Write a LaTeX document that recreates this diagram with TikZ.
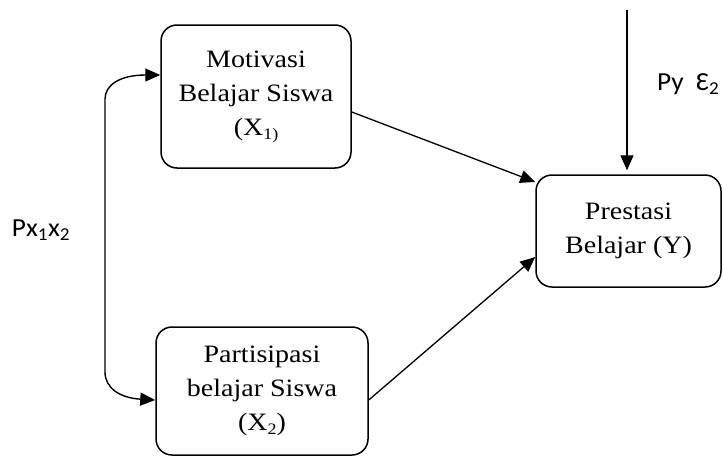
\documentclass[tikz,border=0pt]{standalone}
\usepackage{fontspec}
\setmainfont{Liberation Serif}[FakeStretch=1.12]
\newfontfamily\lblfont{Carlito}[FakeStretch=1.05]
\usetikzlibrary{arrows.meta}
\tikzset{
  varbox/.style={draw, line width=1.5pt, rounded corners=16pt, align=center,
    font=\fontsize{25}{34}\selectfont, inner sep=0pt},
  conn/.style={line width=1.3pt, -{Triangle[length=15pt,width=13pt]}},
  biconn/.style={line width=1.4pt, {Triangle[length=15pt,width=13pt]}-{Triangle[length=15pt,width=13pt]}},
  lbl/.style={font=\lblfont\fontsize{26}{28}\selectfont, inner sep=0pt}
}
\newcommand{\subx}[1]{\raisebox{-0.35ex}{\fontsize{16}{16}\selectfont #1}}
\begin{document}
\begin{tikzpicture}[x=1pt,y=-1pt]
\useasboundingbox (0,0) rectangle (723,458);
\node[varbox, minimum width=190pt, minimum height=143pt] (b1) at (256,96.5)
  {Motivasi\\Belajar Siswa\\(X\subx{1)}};
\node[varbox, minimum width=212pt, minimum height=128pt] (b2) at (262,391)
  {Partisipasi\\belajar Siswa\\(X\subx{2})};
\node[varbox, minimum width=185pt, minimum height=112pt] (by) at (628.5,231)
  {Prestasi\\Belajar (Y)};
\coordinate (src) at (627,10);
\node[lbl, anchor=west] (ley) at (657,84) {Py\ \ Ɛ\textsubscript{2}};
\node[lbl] (lpx) at (41,230) {Px\textsubscript{1}x\textsubscript{2}};
\draw[conn] (src) -- ([yshift=4pt]src |- by.north);
\draw[conn] ([yshift=-15.5pt]b1.east) -- ([yshift=49pt]by.west);
\draw[conn] ([yshift=-9pt]b2.east) -- ([yshift=-26pt]by.west);
\draw[biconn] ([yshift=21.5pt]b1.west) .. controls (120,75) and (105,85) .. (105,99)
  -- (105,372) .. controls (105,388) and (120,398) .. ([yshift=-9pt]b2.west);
\end{tikzpicture}
\end{document}
